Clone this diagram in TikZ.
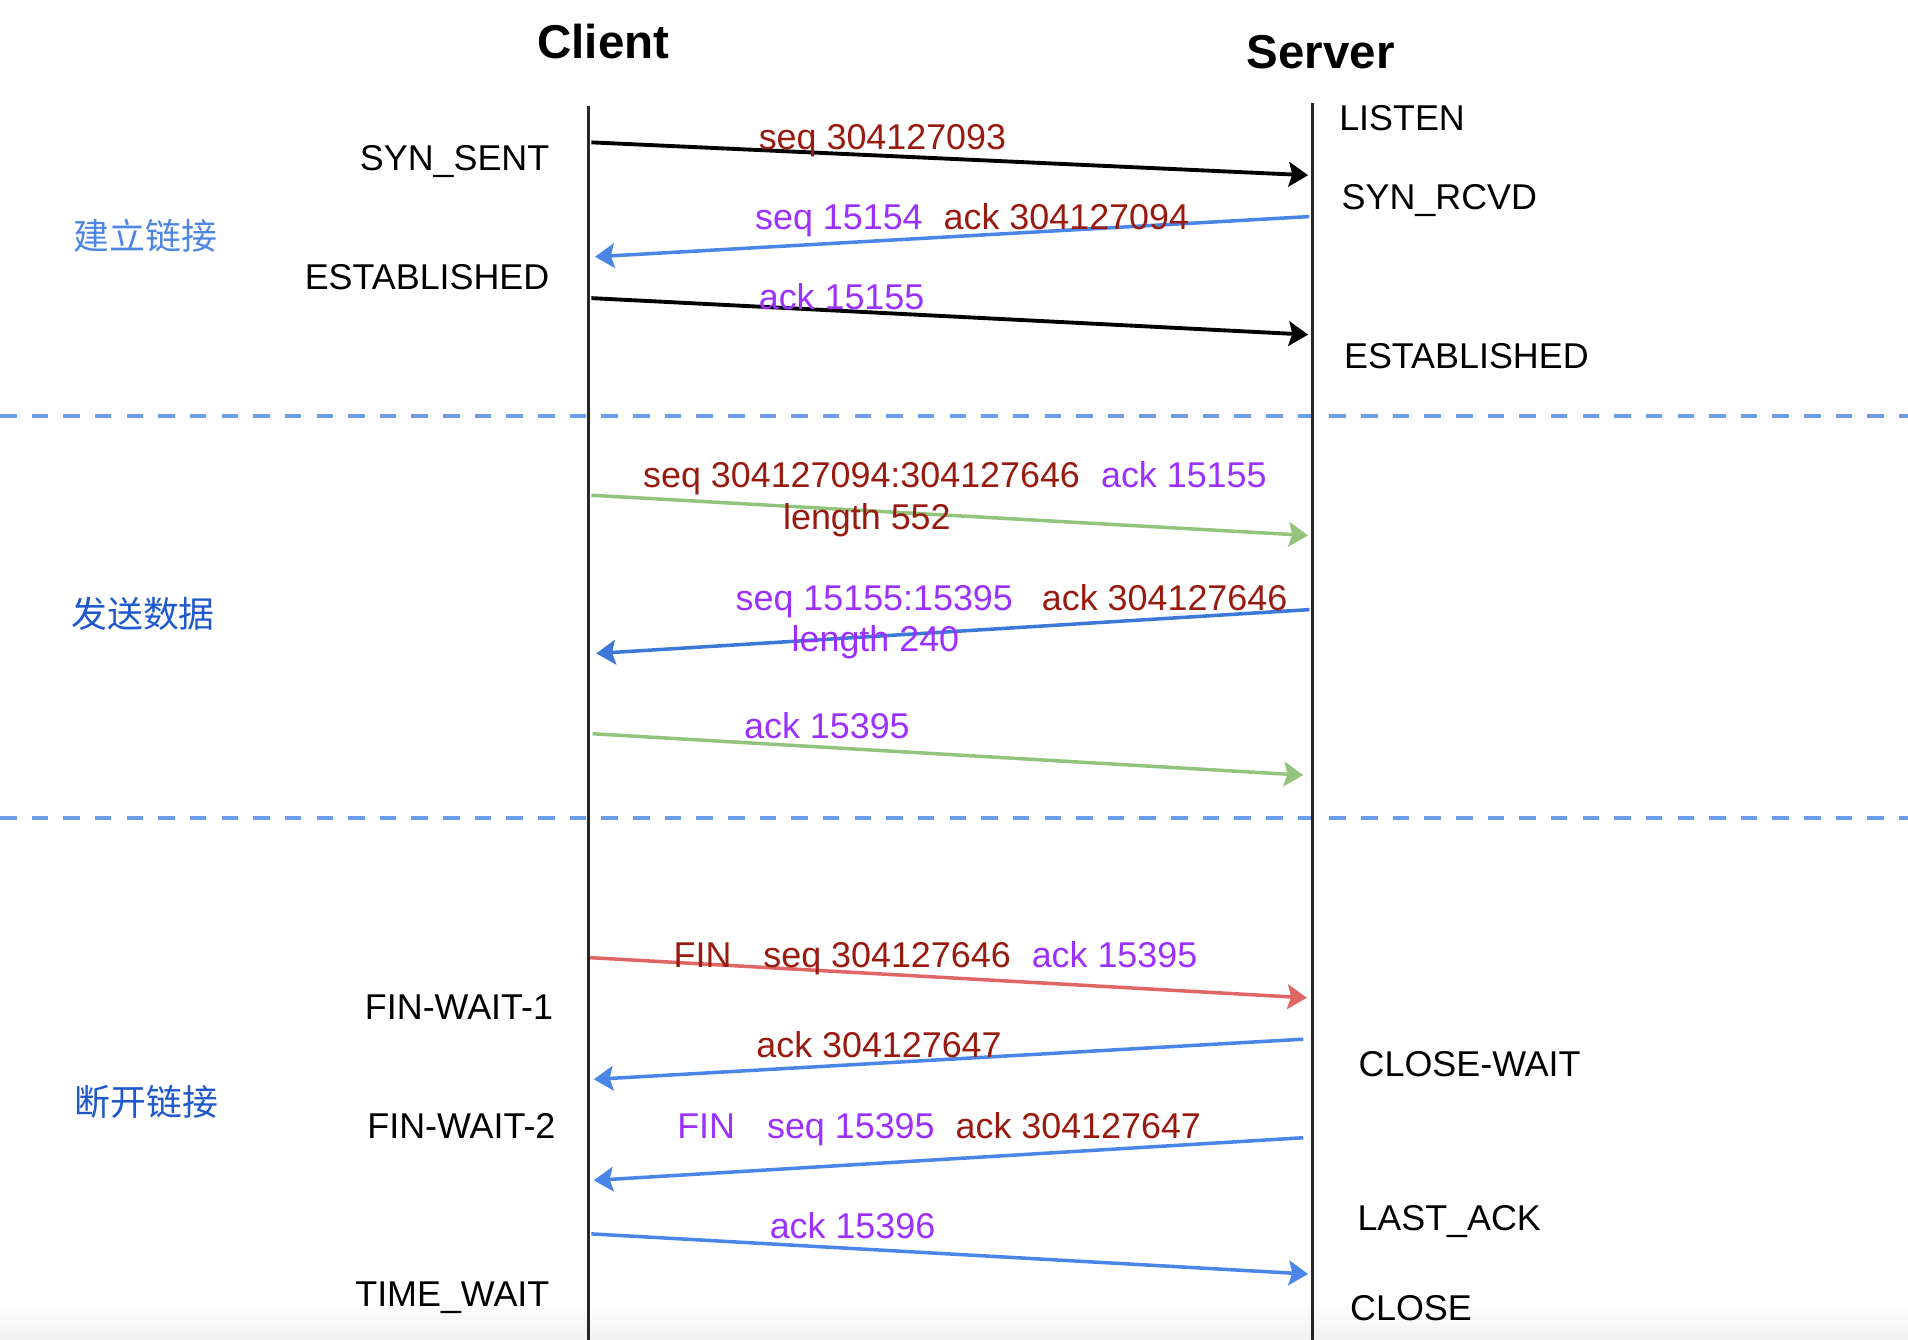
\documentclass[tikz,border=0pt]{standalone}
\usepackage{fontspec}
\setmainfont{Liberation Sans}
\newfontfamily\cjk{Noto Sans CJK SC}
\usepackage{tikz}
\usetikzlibrary{arrows.meta}
\usetikzlibrary{calc}

\definecolor{msgred}{HTML}{991A0F}
\definecolor{msgpurple}{HTML}{9B30FF}
\definecolor{lineblue}{HTML}{4A86E8}
\definecolor{linedarkblue}{HTML}{3C78D8}
\definecolor{linegreen}{HTML}{93C47D}
\definecolor{linered}{HTML}{E06666}
\definecolor{sepblue}{HTML}{6D9EEB}
\definecolor{phaselight}{HTML}{4F86E3}
\definecolor{phasedark}{HTML}{1F58CC}

\begin{document}
\begin{tikzpicture}[x=0.012168cm, y=-0.012168cm,
        title_style/.style={inner sep=0pt,font=\fontsize{13.5}{16}\selectfont\bfseries},
        state_style/.style={inner sep=0pt,font=\fontsize{10.2}{12}\selectfont},
        msg_style/.style={inner sep=0pt,font=\fontsize{10.2}{12}\selectfont,anchor=base west},
        phase_style/.style={inner sep=0pt,font=\fontsize{10.2}{12}\selectfont\cjk,anchor=base west},
        life_style/.style={draw=black!85, line width=0.85pt},
        sep_style/.style={draw=sepblue, line width=1.1pt, dash pattern=on 4.7pt off 4.3pt},
        tip_style/.style={-{Stealth[length=5.5pt,width=7pt,inset=1pt]}},
        black_edge_style/.style={tip_style, draw=black, line width=1.1pt},
        blue_edge_style/.style={tip_style, draw=lineblue, line width=1pt},
        dark_blue_edge_style/.style={tip_style, draw=linedarkblue, line width=1pt},
        green_edge_style/.style={tip_style, draw=linegreen, line width=1pt},
        red_edge_style/.style={tip_style, draw=linered, line width=1pt}]

        \useasboundingbox (0,0) rectangle (1568,1101);
        \shade [top color=white, bottom color=black!5] (0,1068) rectangle (1568,1101);

        % separators between the phases
        \draw [sep_style] (0,342) -- (1568,342);
        \draw [sep_style] (0,672) -- (1568,672);

        % lifelines
        \node [title_style, anchor=base west](client) at (441,48) {Client};
        \node [title_style, anchor=base west](server) at (1024,56) {Server};
        \coordinate (client_top) at (484,87);
        \coordinate (client_bot) at (484,1101);
        \coordinate (server_top) at (1079,85);
        \coordinate (server_bot) at (1079,1101);
        \draw [life_style] (client_top) -- (client_bot);
        \draw [life_style] (server_top) -- (server_bot);

        % client states
        \node [state_style, anchor=base east](syn_sent) at (452,140) {SYN\_SENT};
        \node [state_style, anchor=base east](c_established) at (452,238) {ESTABLISHED};
        \node [state_style, anchor=base east](fin_wait_1) at (455,838) {FIN-WAIT-1};
        \node [state_style, anchor=base east](fin_wait_2) at (457,936) {FIN-WAIT-2};
        \node [state_style, anchor=base east](time_wait) at (452,1074) {TIME\_WAIT};

        % server states
        \node [state_style, anchor=base west](listen) at (1100,107) {LISTEN};
        \node [state_style, anchor=base west](syn_rcvd) at (1102,172) {SYN\_RCVD};
        \node [state_style, anchor=base west](s_established) at (1104,303) {ESTABLISHED};
        \node [state_style, anchor=base west](close_wait) at (1116,885) {CLOSE-WAIT};
        \node [state_style, anchor=base west](last_ack) at (1115,1011) {LAST\_ACK};
        \node [state_style, anchor=base west](closed) at (1109,1085) {CLOSE};

        % phases
        \node [phase_style, text=phaselight](phase1) at (60,205) {建立链接};
        \node [phase_style, text=phasedark](phase2) at (58,516) {发送数据};
        \node [phase_style, text=phasedark](phase3) at (61,917) {断开链接};

        % end points on the lifelines
        \coordinate (c1) at (486,117);   \coordinate (s1) at (1075,144);
        \coordinate (s2) at (1076,178);  \coordinate (c2) at (489,211);
        \coordinate (c3) at (486,245);   \coordinate (s3) at (1075,275);
        \coordinate (c4) at (486,407);   \coordinate (s4) at (1075,440);
        \coordinate (s5) at (1076,501);  \coordinate (c5) at (490,537);
        \coordinate (c6) at (487,603);   \coordinate (s6) at (1071,637);
        \coordinate (c7) at (485,787);   \coordinate (s7) at (1074,820);
        \coordinate (s8) at (1071,854);  \coordinate (c8) at (488,887);
        \coordinate (s9) at (1071,935);  \coordinate (c9) at (488,970);
        \coordinate (c10) at (486,1014); \coordinate (s10) at (1075,1047);

        % handshake
        \draw [black_edge_style] (c1) -- (s1);
        \draw [blue_edge_style] (s2) -- (c2);
        \draw [black_edge_style] (c3) -- (s3);
        % data
        \draw [green_edge_style] (c4) -- (s4);
        \draw [dark_blue_edge_style] (s5) -- (c5);
        \draw [green_edge_style] (c6) -- (s6);
        % teardown
        \draw [red_edge_style] (c7) -- (s7);
        \draw [blue_edge_style] (s8) -- (c8);
        \draw [blue_edge_style] (s9) -- (c9);
        \draw [blue_edge_style] (c10) -- (s10);

        % segment labels
        \node [msg_style, text=msgred](m1) at (623,123) {seq 304127093};
        \node [msg_style](m2) at (620,189) {\textcolor{msgpurple}{seq 15154}\hspace*{0.21cm}\textcolor{msgred}{ack 304127094}};
        \node [msg_style, text=msgpurple](m3) at (623,254) {ack 15155};
        \node [msg_style](m4) at (528,401) {\textcolor{msgred}{seq 304127094:304127646}\hspace*{0.21cm}\textcolor{msgpurple}{ack 15155}};
        \node [msg_style, text=msgred](m4b) at (643,435) {length 552};
        \node [msg_style](m5) at (604,502) {\textcolor{msgpurple}{seq 15155:15395}\hspace*{0.29cm}\textcolor{msgred}{ack 304127646}};
        \node [msg_style, text=msgpurple](m5b) at (650,535) {length 240};
        \node [msg_style, text=msgpurple](m6) at (611,607) {ack 15395};
        \node [msg_style](m7) at (553,795) {\textcolor{msgred}{FIN\hspace*{0.32cm}seq 304127646}\hspace*{0.21cm}\textcolor{msgpurple}{ack 15395}};
        \node [msg_style, text=msgred](m8) at (621,869) {ack 304127647};
        \node [msg_style](m9) at (556,936) {\textcolor{msgpurple}{FIN\hspace*{0.32cm}seq 15395}\hspace*{0.21cm}\textcolor{msgred}{ack 304127647}};
        \node [msg_style, text=msgpurple](m10) at (632,1018) {ack 15396};
\end{tikzpicture}
\end{document}
